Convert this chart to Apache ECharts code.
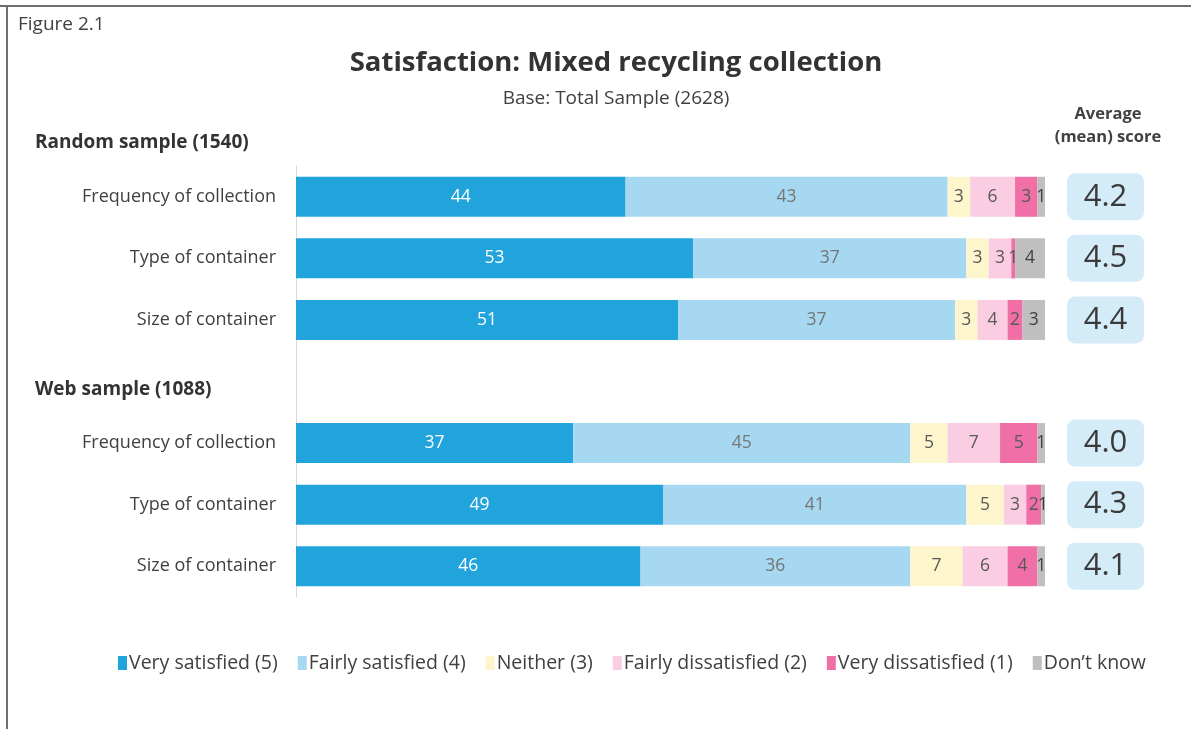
<!DOCTYPE html>
<html>
<head>
<meta charset="utf-8">
<script src="https://cdn.jsdelivr.net/npm/echarts@6/dist/echarts.min.js"></script>
<style>
html,body{margin:0;padding:0;background:#fff;}
#chart{width:1191px;height:729px;}
</style>
</head>
<body>
<div id="chart"></div>
<script>
var categories = ['Frequency of collection', 'Type of container', 'Size of container', '',
                  'Frequency of collection', 'Type of container', 'Size of container'];
var seriesNames = ['Very satisfied (5)', 'Fairly satisfied (4)', 'Neither (3)',
                   'Fairly dissatisfied (2)', 'Very dissatisfied (1)', 'Don\u2019t know'];
var verySatisfied      = [44, 53, 51, null, 37, 49, 46];
var fairlySatisfied    = [43, 36.5, 37, null, 45, 40.5, 36];
var neither            = [3, 3, 3, null, 5, 5, 7];
var fairlyDissatisfied = [6, 3, 4, null, 7, 3, 6];
var veryDissatisfied   = [3, 0.5, 2, null, 5, 2, 4];
var dontKnow           = [1, 4, 3, null, 1, 0.5, 1];
var meanScores = ['4.2', '4.5', '4.4', '', '4.0', '4.3', '4.1'];

var colors = ['#21a3dc', '#a6d9f1', '#fdf5cb', '#fbcde2', '#f06fa7', '#bfbfbf'];
var labelColors = ['#ffffff', '#757575', '#595959', '#595959', '#595959', '#404040'];
var values = [verySatisfied, fairlySatisfied, neither, fairlyDissatisfied, veryDissatisfied, dontKnow];
var FONT = 'Open Sans';

var series = values.map(function (arr, i) {
  return {
    name: seriesNames[i],
    type: 'bar',
    stack: 'total',
    barWidth: 40,
    data: arr,
    itemStyle: { color: colors[i] },
    label: {
      show: true,
      position: 'inside',
      color: labelColors[i],
      fontFamily: FONT,
      fontSize: 17.5,
      formatter: function (p) { return p.value == null ? '' : String(Math.round(p.value)); }
    }
  };
});

var chart = echarts.init(document.getElementById('chart'));
chart.setOption({
  backgroundColor: '#ffffff',
  animation: false,
  textStyle: { fontFamily: FONT },
  grid: { left: 296, right: 146, top: 166, height: 431, containLabel: false },
  xAxis: { type: 'value', min: 0, max: 100, show: false },
  yAxis: [{
    type: 'category',
    inverse: true,
    data: categories,
    axisLine: { show: true, lineStyle: { color: '#d9d9d9', width: 1 } },
    axisTick: { show: false },
    axisLabel: { color: '#404040', fontSize: 18, margin: 20, fontFamily: FONT }
  }, {
    type: 'category',
    inverse: true,
    position: 'right',
    data: categories,
    axisLine: { show: false },
    axisTick: { show: false },
    axisLabel: {
      margin: 22,
      formatter: function (v, idx) { return meanScores[idx] ? '{b|' + meanScores[idx] + '}' : ''; },
      rich: {
        b: {
          backgroundColor: '#d4ebf8', borderRadius: 8, width: 77, height: 47,
          lineHeight: 47, align: 'center', fontSize: 31, color: '#3a3a3a', fontFamily: FONT
        }
      }
    }
  }],
  legend: {
    top: 648, left: 113,
    icon: 'rect', itemWidth: 9, itemHeight: 14, itemGap: 20,
    textStyle: { fontSize: 19.5, color: '#404040', fontFamily: FONT, padding: [0, 0, 0, -3] },
    data: seriesNames
  },
  graphic: [
    { type: 'line', shape: { x1: 0, y1: 6, x2: 1191, y2: 6 }, style: { stroke: '#6e6e6e', lineWidth: 2 } },
    { type: 'line', shape: { x1: 7, y1: 5, x2: 7, y2: 729 }, style: { stroke: '#6e6e6e', lineWidth: 2 } },
    { type: 'text', x: 18, y: 25, style: { text: 'Figure 2.1', font: '19px "Open Sans"', fill: '#404040', textVerticalAlign: 'middle' } },
    { type: 'text', x: 616, y: 63, style: { text: 'Satisfaction: Mixed recycling collection', font: 'bold 27.5px "Open Sans"', fill: '#333333', textAlign: 'center', textVerticalAlign: 'middle' } },
    { type: 'text', x: 616, y: 99, style: { text: 'Base: Total Sample (2628)', font: '19px "Open Sans"', fill: '#404040', textAlign: 'center', textVerticalAlign: 'middle' } },
    { type: 'text', x: 35, y: 143, style: { text: 'Random sample (1540)', font: 'bold 19px "Open Sans"', fill: '#333333', textVerticalAlign: 'middle' } },
    { type: 'text', x: 35, y: 390, style: { text: 'Web sample (1088)', font: 'bold 19px "Open Sans"', fill: '#333333', textVerticalAlign: 'middle' } },
    { type: 'text', x: 1108, y: 114, style: { text: 'Average', font: 'bold 16.5px "Open Sans"', fill: '#404040', textAlign: 'center', textVerticalAlign: 'middle' } },
    { type: 'text', x: 1108, y: 137, style: { text: '(mean) score', font: 'bold 16.5px "Open Sans"', fill: '#404040', textAlign: 'center', textVerticalAlign: 'middle' } }
  ],
  series: series
});
</script>
</body>
</html>
